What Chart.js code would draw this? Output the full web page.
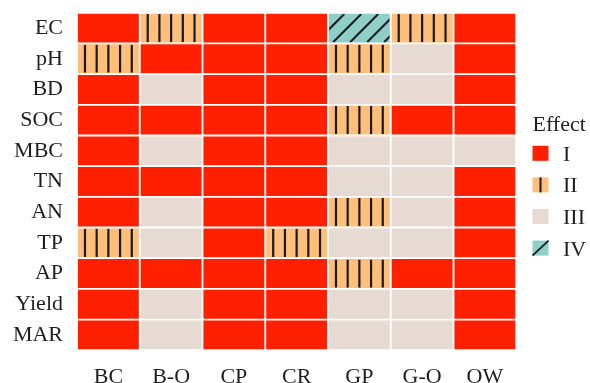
<!DOCTYPE html>
<html>
<head>
<meta charset="utf-8">
<script src="https://cdn.jsdelivr.net/npm/chart.js@4"></script>
<style>
  html, body { margin: 0; padding: 0; background: #fff; }
  #wrap { width: 590px; height: 383px; position: relative; }
</style>
</head>
<body>
<div id="wrap"><canvas id="effect-chart"></canvas></div>
<script>
const rows = ['EC', 'pH', 'BD', 'SOC', 'MBC', 'TN', 'AN', 'TP', 'AP', 'Yield', 'MAR'];
const columns = ['BC', 'B-O', 'CP', 'CR', 'GP', 'G-O', 'OW'];
const levels = ['I', 'II', 'III', 'IV'];

// effect level of every indicator (same order as rows), one list per treatment
const effBC = ['I', 'II', 'I', 'I', 'I', 'I', 'I', 'II', 'I', 'I', 'I'];
const effBO = ['II', 'I', 'III', 'I', 'III', 'I', 'III', 'III', 'I', 'III', 'III'];
const effCP = ['I', 'I', 'I', 'I', 'I', 'I', 'I', 'I', 'I', 'I', 'I'];
const effCR = ['I', 'I', 'I', 'I', 'I', 'I', 'I', 'II', 'I', 'I', 'I'];
const effGP = ['IV', 'II', 'III', 'II', 'III', 'III', 'II', 'III', 'II', 'III', 'III'];
const effGO = ['II', 'III', 'III', 'I', 'III', 'III', 'III', 'III', 'I', 'III', 'III'];
const effOW = ['I', 'I', 'I', 'I', 'III', 'I', 'I', 'I', 'I', 'I', 'I'];

const effects = [effBC, effBO, effCP, effCR, effGP, effGO, effOW];

const levelColor = { 'I': '#FF2000', 'II': '#FFBE7A', 'III': '#E7DAD2', 'IV': '#8ECFC9' };
const hatchColor = '#1a1a1a';
const textColor = '#1e1e1e';
const fontFamily = '"Liberation Serif", "Times New Roman", serif';
const gap = 1.25;

// hatch lines for levels II (vertical) and IV (diagonal)
function drawHatch(ctx, level, left, top, right, bottom) {
  const w = right - left, h = bottom - top;
  ctx.save();
  ctx.beginPath();
  ctx.rect(left, top, w, h);
  ctx.clip();
  ctx.strokeStyle = hatchColor;
  if (level === 'II') {
    ctx.lineWidth = 2.2;
    const step = w / 5.15;
    const cx = (left + right) / 2;
    for (let k = -2; k <= 2; k++) {
      ctx.beginPath();
      ctx.moveTo(cx + k * step, top);
      ctx.lineTo(cx + k * step, bottom);
      ctx.stroke();
    }
  } else if (level === 'IV') {
    ctx.lineWidth = 2;
    const step = 17;
    for (let sx = left + 15 - 3 * step; sx < right + h; sx += step) {
      ctx.beginPath();
      ctx.moveTo(sx - h, bottom);
      ctx.lineTo(sx, top);
      ctx.stroke();
    }
  }
  ctx.restore();
}

const hatchPlugin = {
  id: 'hatch',
  afterDatasetsDraw(chart) {
    const ctx = chart.ctx;
    chart.data.datasets.forEach((ds, di) => {
      const meta = chart.getDatasetMeta(di);
      meta.data.forEach((bar, i) => {
        const level = ds.effects[i];
        if (level !== 'II' && level !== 'IV') return;
        const p = bar.getProps(['x', 'y', 'base', 'height'], true);
        const left = Math.min(p.base, p.x) + gap;
        const right = Math.max(p.base, p.x) - gap;
        const top = p.y - p.height / 2 + gap;
        const bottom = p.y + p.height / 2 - gap;
        drawHatch(ctx, level, left, top, right, bottom);
      });
    });
  }
};

// legend for the four effect levels
const effectLegend = {
  id: 'effectLegend',
  afterDraw(chart) {
    const ctx = chart.ctx;
    const x0 = 532.5, boxW = 16, boxH = 15;
    ctx.save();
    ctx.fillStyle = textColor;
    ctx.font = '22px ' + fontFamily;
    ctx.textBaseline = 'alphabetic';
    ctx.textAlign = 'left';
    ctx.fillText('Effect', x0, 131);
    levels.forEach((lvl, i) => {
      const cy = 153.3 + i * 31.6;
      const top = cy - boxH / 2;
      ctx.fillStyle = levelColor[lvl];
      ctx.fillRect(x0, top, boxW, boxH);
      ctx.strokeStyle = hatchColor;
      if (lvl === 'II') {
        ctx.lineWidth = 2;
        ctx.beginPath();
        ctx.moveTo(x0 + boxW / 2, top);
        ctx.lineTo(x0 + boxW / 2, top + boxH);
        ctx.stroke();
      } else if (lvl === 'IV') {
        ctx.lineWidth = 1.8;
        ctx.beginPath();
        ctx.moveTo(x0, top + boxH);
        ctx.lineTo(x0 + boxW, top);
        ctx.stroke();
      }
      ctx.fillStyle = textColor;
      ctx.fillText(lvl, 563, cy + 7.5);
    });
    ctx.restore();
  }
};

const datasets = columns.map((name, c) => ({
  label: name,
  effects: effects[c],
  data: rows.map(() => 1),   // every cell spans one treatment unit
  backgroundColor: effects[c].map(lvl => levelColor[lvl]),
  borderColor: '#fff',
  borderWidth: gap,
  borderSkipped: false,
  barPercentage: 1,
  categoryPercentage: 1
}));

const chartObj = document.getElementById('effect-chart');

new Chart(chartObj, {
  type: 'bar',
  data: { labels: rows, datasets: datasets },
  options: {
    indexAxis: 'y',
    responsive: true,
    maintainAspectRatio: false,
    animation: false,
    layout: { padding: { top: 12.75, right: 73.75, left: 0, bottom: 0 } },
    plugins: {
      legend: { display: false },
      tooltip: { enabled: false }
    },
    scales: {
      x: {
        stacked: true,
        min: 0,
        max: columns.length,
        grid: { display: false },
        border: { display: false },
        afterFit(scale) {
          scale.height = 32.75;
          scale.paddingLeft = 0;
          scale.paddingRight = 0;
        },
        ticks: {
          stepSize: 0.5,
          autoSkip: false,
          maxRotation: 0,
          padding: 6,
          color: textColor,
          font: { family: fontFamily, size: 22 },
          callback: v => Number.isInteger(v) ? '' : columns[Math.floor(v)]
        }
      },
      y: {
        stacked: true,
        grid: { display: false },
        border: { display: false },
        afterFit(scale) {
          scale.width = 77;
          scale.paddingTop = 0;
          scale.paddingBottom = 0;
        },
        ticks: {
          autoSkip: false,
          padding: 6,
          color: textColor,
          font: { family: fontFamily, size: 22 }
        }
      }
    }
  },
  plugins: [hatchPlugin, effectLegend]
});
</script>
</body>
</html>
